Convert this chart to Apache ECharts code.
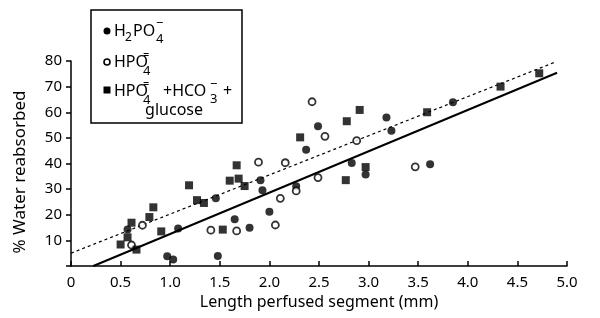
<!DOCTYPE html>
<html>
<head>
<meta charset="utf-8">
<script src="https://cdn.jsdelivr.net/npm/echarts@6/dist/echarts.min.js"></script>
<style>html,body{margin:0;padding:0;background:#fff}#c{width:600px;height:318px}</style>
</head>
<body>
<div id="c"></div>
<script>
// H2PO4- (filled circles) [length mm, % water reabsorbed]
var h2po4 = [[0.97,3.8],[1.03,2.5],[1.08,14.6],[1.48,3.9],[1.46,26.4],[1.65,18.2],[1.80,14.9],[1.91,33.5],[1.93,29.6],[2.00,21.2],[2.27,31.1],[2.37,45.4],[2.49,54.5],[2.83,40.2],[2.97,35.7],[3.18,58.0],[3.23,52.8],[3.62,39.7],[3.85,63.9],[0.57,14.2]];
// HPO4= (open circles)
var hpo4 = [[0.61,8.2],[0.72,15.9],[1.41,14.0],[1.67,13.7],[1.89,40.5],[2.06,16.0],[2.11,26.4],[2.16,40.3],[2.27,29.3],[2.43,64.1],[2.49,34.5],[2.56,50.6],[2.88,48.9],[3.47,38.7]];
// HPO4= + HCO3- + glucose (filled squares)
var hpo4Glucose = [[0.50,8.4],[0.57,11.2],[0.66,6.4],[0.61,16.9],[0.79,19.1],[0.83,22.9],[0.91,13.5],[1.19,31.5],[1.27,25.7],[1.34,24.6],[1.53,14.2],[1.60,33.3],[1.67,39.3],[1.69,34.1],[1.75,31.2],[2.31,50.2],[2.77,33.5],[2.78,56.5],[2.91,60.9],[2.97,38.6],[3.59,60.0],[4.33,70.0],[4.72,75.2]];
// regression lines (end points)
var solidLine = [[0.225,0],[4.90,75.4]];
var dashedLine = [[0,5.0],[4.87,79.4]];
var xTicks = ['0','0.5','1.0','1.5','2.0','2.5','3.0','3.5','4.0','4.5','5.0'];
var yTicks = ['10','20','30','40','50','60','70','80'];
var xTitle = 'Length perfused segment (mm)';
var yTitle = '% Water reabsorbed';

var FONT = 'Noto Sans';
var chart = echarts.init(document.getElementById('c'), null, {renderer:'canvas'});

function txt(x, y, s, size, extra){
  var o = {type:'text', x:x, y:y, z:6, style:{text:s, font: size+'px "'+FONT+'"', fill:'#000', textVerticalAlign:'middle'}};
  if (extra) for (var k in extra) o.style[k] = extra[k];
  return o;
}

var graphics = [
  {type:'rect', shape:{x:91, y:10, width:151, height:113}, style:{fill:'#fff', stroke:'#000', lineWidth:1.5}, z:5},
  {type:'circle', shape:{cx:107, cy:31, r:3.5}, style:{fill:'#000'}, z:6},
  {type:'circle', shape:{cx:107, cy:62, r:3}, style:{fill:'#fff', stroke:'#000', lineWidth:1.6}, z:6},
  {type:'rect', shape:{x:103.5, y:86.5, width:7, height:7}, style:{fill:'#000'}, z:6},
  // row 1: H2PO4-
  txt(114,31,'H',16), txt(125,38,'2',12), txt(133,31,'PO',16), txt(156,39,'4',13), txt(156,23,'\u2212',13),
  // row 2: HPO4=
  txt(114,62,'HPO',16), txt(143,71,'4',13), txt(143,55,'=',11),
  // row 3: HPO4= + HCO3- +
  txt(114,91,'HPO',16), txt(143,100,'4',13), txt(143,84,'=',11),
  txt(163,91,'+HCO',16), txt(210,99,'3',13), txt(210,84,'\u2212',13), txt(223,91,'+',16),
  // row 4
  txt(203,110,'glucose',16,{textAlign:'right'}),
  // axis titles
  {type:'text', x:20, y:172, rotation:Math.PI/2, z:6,
   style:{text:yTitle, font:'17px "'+FONT+'"', fill:'#000', textAlign:'center', textVerticalAlign:'middle'}},
  {type:'text', x:319, y:302, z:6,
   style:{text:xTitle, font:'16px "'+FONT+'"', fill:'#000', textAlign:'center', textVerticalAlign:'middle'}}
];

chart.setOption({
  animation:false,
  backgroundColor:'#fff',
  grid:{left:71, right:33, top:61, bottom:52},
  xAxis:{
    type:'value', min:0, max:5, interval:0.5,
    axisLine:{lineStyle:{color:'#000', width:1.5}},
    axisTick:{inside:true, length:5, lineStyle:{color:'#000', width:1.5}},
    axisLabel:{fontFamily:FONT, fontSize:15, color:'#000', margin:9,
      formatter:function(v){ return xTicks[Math.round(v/0.5)]; }},
    splitLine:{show:false}
  },
  yAxis:{
    type:'value', min:0, max:80, interval:10,
    axisLine:{show:true, lineStyle:{color:'#000', width:1.5}},
    axisTick:{length:5, lineStyle:{color:'#000', width:1.5}},
    axisLabel:{fontFamily:FONT, fontSize:15, color:'#000', margin:9,
      formatter:function(v){ var i = Math.round(v/10)-1; return i>=0 ? yTicks[i] : ''; }},
    splitLine:{show:false}
  },
  series:[
    {type:'line', data:solidLine, symbol:'none', lineStyle:{color:'#000', width:2}, z:1},
    {type:'line', data:dashedLine, symbol:'none', lineStyle:{color:'#000', width:1.2, type:[3,3]}, z:1},
    {type:'scatter', name:'H2PO4', data:h2po4, symbol:'circle', symbolSize:8, itemStyle:{color:'#000'}, z:3},
    {type:'scatter', name:'HPO4', data:hpo4, symbol:'circle', symbolSize:7, itemStyle:{color:'#fff', borderColor:'#000', borderWidth:1.8}, z:3},
    {type:'scatter', name:'HPO4+HCO3+glucose', data:hpo4Glucose, symbol:'rect', symbolSize:8, itemStyle:{color:'#000'}, z:3}
  ],
  graphic:graphics
});
</script>
</body>
</html>
